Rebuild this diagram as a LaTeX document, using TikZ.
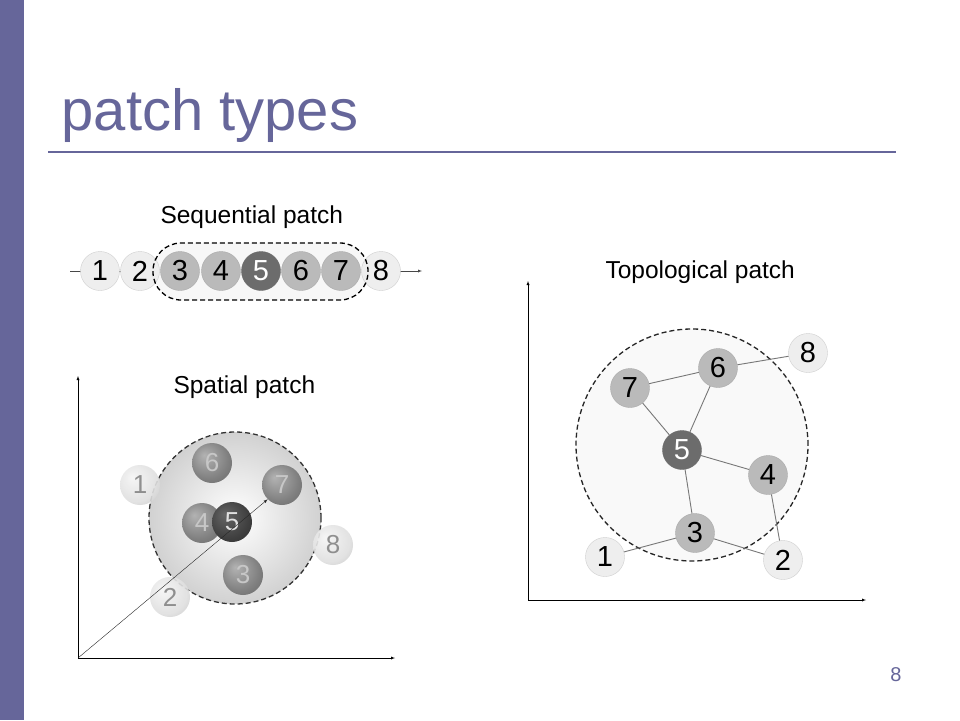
\documentclass[tikz,border=0pt]{standalone}
\usepackage{fontspec}
\setmainfont{Liberation Sans}
\usepackage{xcolor}
\usetikzlibrary{arrows}

\definecolor{slide}{HTML}{66669A}
\definecolor{pale}{HTML}{EEEEEE}
\definecolor{paleline}{HTML}{CFCFCF}
\definecolor{mid}{HTML}{BABABA}
\definecolor{midline}{HTML}{AAAAAA}
\definecolor{deep}{HTML}{6C6C6C}
\definecolor{edgegray}{HTML}{777777}

% sphere shadings, highlight up left
\pgfdeclareradialshading{palesphere}{\pgfpoint{-10bp}{10bp}}{color(0bp)=(black!4); color(25bp)=(black!12); color(50bp)=(black!30)}
\pgfdeclareradialshading{midsphere}{\pgfpoint{-10bp}{10bp}}{color(0bp)=(black!30); color(25bp)=(black!50); color(50bp)=(black!66)}
\pgfdeclareradialshading{deepsphere}{\pgfpoint{-10bp}{10bp}}{color(0bp)=(black!60); color(25bp)=(black!75); color(50bp)=(black!88)}

\tikzset{
	dot/.style={circle,minimum size=39pt,inner sep=0pt,font=\fontsize{29}{29}\selectfont},
	pale/.style={dot,fill=pale,draw=paleline},
	mid/.style={dot,fill=mid,draw=midline},
	deep/.style={dot,fill=deep,draw=deep,text=white},
	ball/.style={circle,minimum size=40pt,inner sep=0pt,font=\fontsize{26}{26}\selectfont},
	paleball/.style={ball,shading=palesphere,opacity=.9,text=black!48},
	midball/.style={ball,shading=midsphere,text=black!22},
	deepball/.style={ball,shading=deepsphere,text=black!12},
	label/.style={anchor=base west,font=\fontsize{24.5}{24.5}\selectfont},
	patch/.style={dash pattern=on 5pt off 3pt,line width=1.3pt}
}

\begin{document}
\begin{tikzpicture}[x=1pt,y=-1pt,>=latex]
		\useasboundingbox[fill=white] (0,0) rectangle (960,720);
		\fill[slide] (0,0) rectangle (24,720);
		\node[anchor=base west,text=slide,font=\fontsize{58}{58}\selectfont] (title) at (58,130) {patch types};
		\draw[slide,line width=2pt] (48,152) -- (896,152);
		\node[text=slide,font=\fontsize{20}{20}\selectfont] (page) at (896,675) {8};
		%
		% sequential
		\node[label] (seqlabel) at (157,223) {Sequential patch};
		\coordinate (seqL) at (70,271);
		\coordinate (seqR) at (422,271);
		\draw[->,edgegray!60!black] (seqL) -- (seqR);
		\fill[gray!6] (153,243) [rounded corners=28pt] rectangle (368,300);
		\node[pale] (s1) at (100,271) {1};
		\node[pale] (s2) at (140,271) {2};
		\node[mid] (s3) at (180,271) {3};
		\node[mid] (s4) at (221,271) {4};
		\node[deep] (s5) at (261,271) {5};
		\node[mid] (s6) at (301,271) {6};
		\node[mid] (s7) at (341,271) {7};
		\node[pale] (s8) at (381,271) {8};
		\draw[patch] (153,243) [rounded corners=28pt] rectangle (368,300);
		%
		% spatial
		\node[label] (spalabel) at (170,393) {Spatial patch};
		\coordinate (spaO) at (78,658);
		\coordinate (spaY) at (78,376);
		\coordinate (spaX) at (395,658);
		\draw[->] (spaO) -- (spaY);
		\draw[->] (spaO) -- (spaX);
		\shade[inner color=white,outer color=black!18] (235,518) circle (86pt);
		\draw[patch,gray!40!black] (235,518) circle (86pt);
		\node[midball] (b6) at (212,463) {6};
		\node[midball] (b7) at (282,485) {7};
		\node[midball] (b4) at (202,523) {4};
		\node[deepball] (b5) at (232,522) {5};
		\node[midball] (b3) at (243,575) {3};
		\node[paleball] (b1) at (140,485) {1};
		\node[paleball] (b8) at (333,545) {8};
		\node[paleball] (b2) at (170,597) {2};
		\draw[->,gray!30!black] (spaO) -- (b7.south west);
		%
		% topological
		\node[label] (toplabel) at (602,278) {Topological patch};
		\coordinate (topO) at (528,600);
		\coordinate (topY) at (528,281);
		\coordinate (topX) at (866,600);
		\draw[->] (topO) -- (topY);
		\draw[->] (topO) -- (topX);
		\fill[gray!5] (692,445) circle (116pt);
		\draw[patch,black!85] (692,445) circle (116pt);
		\node[pale] (t8) at (808,353) {8};
		\node[mid] (t6) at (718,368) {6};
		\node[mid] (t7) at (630,388) {7};
		\node[deep] (t5) at (682,450) {5};
		\node[mid] (t4) at (768,475) {4};
		\node[mid] (t3) at (695,533) {3};
		\node[pale] (t1) at (605,557) {1};
		\node[pale] (t2) at (783,560) {2};
		%
		\path[draw=edgegray,line width=.9pt]
		(t8) edge (t6)
		(t6) edge (t7)
		(t7) edge (t5)
		(t6) edge (t5)
		(t5) edge (t4)
		(t5) edge (t3)
		(t3) edge (t1)
		(t3) edge (t2)
		(t4) edge (t2);
		\end{tikzpicture}
\end{document}
